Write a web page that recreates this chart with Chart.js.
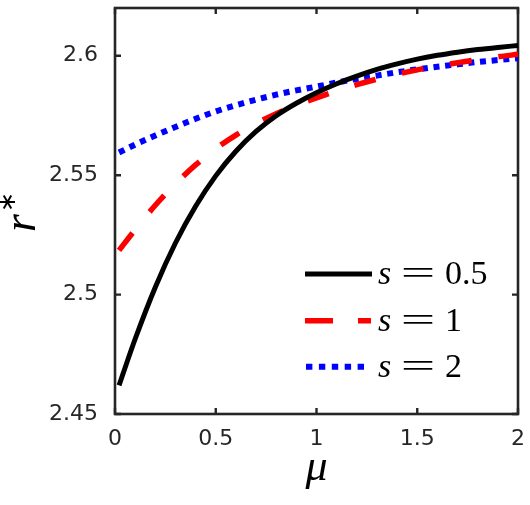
<!DOCTYPE html>
<html>
<head>
<meta charset="utf-8">
<script src="https://cdn.jsdelivr.net/npm/chart.js@4.4.1/dist/chart.umd.min.js"></script>
<style>
  html, body { margin: 0; padding: 0; background: #ffffff; }
  #c { display: block; }
</style>
</head>
<body>
<canvas id="c" width="530" height="505"></canvas>
<script>
// ---- data ----
const mu = [0.02, 0.1, 0.2, 0.3, 0.4, 0.5, 0.6, 0.7, 0.8, 0.9, 1.0,
            1.1, 1.2, 1.3, 1.4, 1.5, 1.6, 1.7, 1.8, 1.9, 2.0];
const r_s05 = [2.4620, 2.4814, 2.5031, 2.5216, 2.5370, 2.5497, 2.5600, 2.5683, 2.5749, 2.5801, 2.5845,
               2.5883, 2.5915, 2.5943, 2.5966, 2.5986, 2.6002, 2.6015, 2.6026, 2.6035, 2.6043];
const r_s1  = [2.5185, 2.5272, 2.5374, 2.5464, 2.5543, 2.5611, 2.5668, 2.5716, 2.5757, 2.5793, 2.5824,
               2.5853, 2.5879, 2.5902, 2.5923, 2.5941, 2.5957, 2.5971, 2.5984, 2.5996, 2.6006];
const r_s2  = [2.5595, 2.5628, 2.5666, 2.5702, 2.5736, 2.5767, 2.5793, 2.5816, 2.5837, 2.5855, 2.5871,
               2.5888, 2.5903, 2.5917, 2.5931, 2.5943, 2.5954, 2.5964, 2.5974, 2.5982, 2.5990];
const seriesNames = ['0.5', '1', '2'];
const xTicks = [0, 0.5, 1, 1.5, 2];
const xTickLabels = ['0', '0.5', '1', '1.5', '2'];
const yTicks = [2.45, 2.5, 2.55, 2.6];
const yTickLabels = ['2.45', '2.5', '2.55', '2.6'];
const xTitle = 'μ';
const yTitle = 'r';
const yTitleSup = '∗';

const axisColor = '#262626';
const tickFont = { family: 'DejaVu Sans', size: 22 };

const toXY = arr => mu.map((m, i) => ({ x: m, y: arr[i] }));

const styles = [
  { color: '#000000', width: 5, dash: [] , legendDash: [] },
  { color: '#ff0000', width: 5.5, dash: [22, 27], legendDash: [28, 25] },
  { color: '#0000ff', width: 6, dash: [6, 5.7], legendDash: [6.4, 6.5] }
];
const seriesData = [r_s05, r_s1, r_s2];

// frame + inward ticks (drawn under the data, like MATLAB)
const framePlugin = {
  id: 'frame',
  beforeDatasetsDraw(chart) {
    const { ctx, chartArea: a, scales } = chart;
    ctx.save();
    ctx.strokeStyle = axisColor;
    ctx.lineWidth = 2.6;
    ctx.strokeRect(a.left, a.top, a.right - a.left, a.bottom - a.top);
    ctx.lineWidth = 2.4;
    const tl = 6;
    ctx.beginPath();
    xTicks.forEach(v => {
      const px = scales.x.getPixelForValue(v);
      ctx.moveTo(px, a.bottom); ctx.lineTo(px, a.bottom - tl);
      ctx.moveTo(px, a.top); ctx.lineTo(px, a.top + tl);
    });
    yTicks.forEach(v => {
      const py = scales.y.getPixelForValue(v);
      ctx.moveTo(a.left, py); ctx.lineTo(a.left + tl, py);
      ctx.moveTo(a.right, py); ctx.lineTo(a.right - tl, py);
    });
    ctx.stroke();
    ctx.restore();
  }
};

// axis titles + legend inside the plot
const overlayPlugin = {
  id: 'overlay',
  afterDraw(chart) {
    const { ctx, chartArea: a } = chart;
    ctx.save();
    ctx.fillStyle = '#000000';
    // x title
    ctx.font = 'italic 44px "Liberation Serif"';
    ctx.textAlign = 'center';
    ctx.textBaseline = 'alphabetic';
    ctx.fillText(xTitle, (a.left + a.right) / 2, 480);
    // y title (rotated, reads bottom to top)
    ctx.save();
    ctx.translate(35, 232);
    ctx.rotate(-Math.PI / 2);
    ctx.textAlign = 'left';
    ctx.textBaseline = 'alphabetic';
    ctx.font = 'italic 46px "Liberation Serif"';
    ctx.fillText(yTitle, 0, 0);
    ctx.font = '24px "DejaVu Sans"';
    ctx.textAlign = 'center';
    ctx.textBaseline = 'middle';
    ctx.fillText(yTitleSup, 30, -26);
    ctx.restore();

    // legend
    const rowY = [274, 320.7, 366.7];
    const sampleStart = [305, 305, 306];
    const sampleEnd = [372, 371, 364];
    ctx.textBaseline = 'alphabetic';
    styles.forEach((st, i) => {
      ctx.save();
      ctx.strokeStyle = st.color;
      ctx.lineWidth = st.width;
      ctx.lineCap = 'butt';
      ctx.setLineDash(st.legendDash);
      ctx.beginPath();
      ctx.moveTo(sampleStart[i], rowY[i]);
      ctx.lineTo(sampleEnd[i], rowY[i]);
      ctx.stroke();
      ctx.restore();
      const base = rowY[i] + 10;
      ctx.fillStyle = '#000000';
      ctx.textAlign = 'left';
      ctx.font = 'italic 34px "Liberation Serif"';
      ctx.fillText('s', 378, base);
      ctx.textAlign = 'center';
      ctx.font = '34px "Liberation Serif"';
      ctx.save();
      ctx.translate(418, base);
      ctx.scale(1.8, 1);
      ctx.fillText('=', 0, 0);
      ctx.restore();
      ctx.textAlign = 'left';
      ctx.fillText(seriesNames[i], 445, base);
    });
    ctx.restore();
  }
};

new Chart(document.getElementById('c'), {
  type: 'line',
  data: {
    datasets: seriesData.map((arr, i) => ({
      label: 's = ' + seriesNames[i],
      data: toXY(arr),
      borderColor: styles[i].color,
      borderWidth: styles[i].width,
      borderDash: styles[i].dash,
      borderCapStyle: 'butt',
      pointRadius: 0,
      fill: false,
      cubicInterpolationMode: 'monotone',
      clip: false
    }))
  },
  options: {
    responsive: false,
    animation: false,
    devicePixelRatio: 1,
    layout: { padding: { left: 0, right: 12, top: 8, bottom: 0 } },
    plugins: { legend: { display: false }, tooltip: { enabled: false } },
    scales: {
      x: {
        type: 'linear', min: 0, max: 2,
        afterBuildTicks: s => { s.ticks = xTicks.map(v => ({ value: v })); },
        afterFit: s => { s.height = 91; s.paddingLeft = 0; s.paddingRight = 0; },
        ticks: {
          callback: (v, i) => xTickLabels[i],
          font: tickFont, color: axisColor, padding: 4,
          maxRotation: 0, autoSkip: false
        },
        grid: { display: false },
        border: { display: false }
      },
      y: {
        type: 'linear', min: 2.45, max: 2.62,
        afterBuildTicks: s => { s.ticks = yTicks.map(v => ({ value: v })); },
        afterFit: s => { s.width = 115; s.paddingTop = 0; s.paddingBottom = 0; },
        ticks: {
          callback: (v, i) => yTickLabels[i],
          font: tickFont, color: axisColor, padding: 9,
          autoSkip: false
        },
        grid: { display: false },
        border: { display: false }
      }
    }
  },
  plugins: [framePlugin, overlayPlugin]
});
</script>
</body>
</html>
